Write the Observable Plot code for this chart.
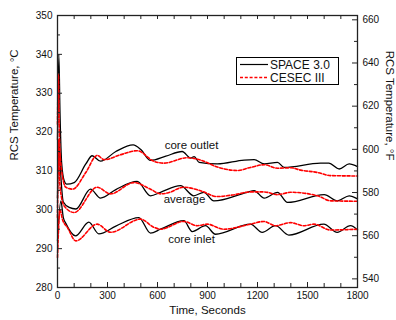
<!DOCTYPE html>
<html>
<head>
<meta charset="utf-8">
<script src="https://cdn.jsdelivr.net/npm/d3@7"></script>
<script src="https://cdn.jsdelivr.net/npm/@observablehq/plot@0.6"></script>
<style>
  body { margin: 0; background: #fff; }
  #wrap { position: relative; width: 396px; height: 320px; font-family: "Liberation Sans", Arial, sans-serif; }
  #legend { position: absolute; left: 236px; top: 57px; width: 101px; height: 26px; border: 1px solid #000; background: #fff; }
</style>
</head>
<body>
<div id="wrap"></div>
<script>
// ---- data (time s, temperature °C) ----
const spaceOutlet = [[0,318],[8,340],[15,325],[25,312],[40,307.5],[55,306.6],[100,307.0],[170,311.8],[208,313.9],[258,312.5],[350,315.0],[454,316.7],[500,315.5],[558,312.7],[650,313.8],[748,315.0],[800,313.3],[820,313.7],[850,312.2],[960,311.8],[1120,312.8],[1180,312.9],[1240,311.8],[1320,312.2],[1360,310.9],[1578,312.0],[1628,312.0],[1690,310.5],[1750,311.8],[1800,311.1]];
const cesecOutlet = [[0,322],[5,335],[12,318],[25,310],[50,305.8],[90,305.3],[170,309.6],[238,314.0],[280,312.9],[380,314.2],[478,315.2],[578,312.5],[638,312.0],[778,313.4],[858,312.8],[960,311.0],[1078,310.1],[1158,310.9],[1240,311.6],[1320,310.7],[1400,310.8],[1460,310.2],[1560,309.6],[1638,308.8],[1800,308.7]];
const spaceAverage = [[0,303],[8,318],[18,310],[35,302],[70,300.6],[110,300.2],[198,305.3],[258,303.0],[350,305.2],[478,307.3],[558,303.6],[618,304.5],[738,306.2],[818,303.6],[878,304.5],[938,302.3],[1138,304.5],[1180,304.9],[1240,303.0],[1320,304.5],[1380,301.9],[1600,303.9],[1680,302.3],[1750,303.6],[1800,302.8]];
const cesecAverage = [[0,298],[6,318],[15,306],[40,301],[100,299.3],[238,305.8],[318,304.1],[458,307.0],[558,305.3],[618,304.1],[658,304.3],[758,305.8],[858,304.9],[958,303.4],[1050,303.8],[1158,304.6],[1240,304.6],[1320,303.9],[1400,304.5],[1560,303.6],[1640,302.3],[1800,302.2]];
const spaceInlet = [[0,292],[20,302.3],[35,298],[50,296.5],[108,293.3],[188,296.8],[248,293.8],[350,295.8],[488,298.0],[558,294.0],[618,295.0],[758,297.2],[808,294.4],[888,295.9],[948,293.7],[1158,296.3],[1228,294.2],[1308,295.9],[1388,293.5],[1598,296.3],[1678,294.2],[1758,295.9],[1800,294.8]];
const cesecInlet = [[0,287.7],[15,300],[30,297.5],[60,295.4],[110,292.0],[238,296.3],[318,294.2],[498,297.6],[578,295.5],[618,295.0],[758,297.0],[838,295.9],[898,296.3],[998,295.0],[1158,296.3],[1238,297.0],[1308,295.9],[1398,296.7],[1478,295.9],[1538,296.3],[1638,294.8],[1800,295.0]];

const seriesNames = ["SPACE 3.0", "CESEC III"];
const xLabels = [0, 300, 600, 900, 1200, 1500, 1800];
const xTicks = d3.range(0, 1801, 100);
const yLabels = [280, 290, 300, 310, 320, 330, 340, 350];
const yMinor = [285, 295, 305, 315, 325, 335, 345];
const fLabels = [540, 560, 580, 600, 620, 640, 660];
const fMinor = [550, 570, 590, 610, 630, 650];
const annoText = ["core outlet", "average", "core inlet"];
const annoT = [804, 762, 804];
const annoC = [316.5, 302.8, 292.5];

const toRows = (arr, model) => arr.map(([t, v]) => ({t, v, model}));
const spaceRows = [spaceOutlet, spaceAverage, spaceInlet];
const cesecRows = [cesecOutlet, cesecAverage, cesecInlet];

const W = 396, H = 320, mL = 57, mR = 39, mT = 15, mB = 33;
const pw = W - mL - mR, ph = H - mT - mB;
const fToC = f => (f - 32) / 1.8;
const ink = "#222";
const redDash = "3,1.8";

const marks = [];
spaceRows.forEach(arr => marks.push(Plot.line(toRows(arr, seriesNames[0]), {x: "t", y: "v", stroke: "#000", strokeWidth: 1.3, curve: "monotone-x"})));
cesecRows.forEach(arr => marks.push(Plot.line(toRows(arr, seriesNames[1]), {x: "t", y: "v", stroke: "#ff0000", strokeWidth: 1.6, strokeDasharray: redDash, curve: "monotone-x"})));

marks.push(
  Plot.tickX(xTicks, {x: d => d, insetTop: ph - 4, stroke: ink}),
  Plot.tickX(xLabels, {x: d => d, insetTop: ph - 5, stroke: ink}),
  Plot.tickX(xTicks, {x: d => d, insetBottom: ph - 4, stroke: ink}),
  Plot.tickY(yLabels, {y: d => d, insetRight: pw - 5, stroke: ink}),
  Plot.tickY(yMinor, {y: d => d, insetRight: pw - 3, stroke: ink}),
  Plot.tickY(fLabels, {y: fToC, insetLeft: pw - 5, stroke: ink}),
  Plot.tickY(fMinor, {y: fToC, insetLeft: pw - 3, stroke: ink}),
  Plot.frame({stroke: ink, strokeWidth: 1.3}),
  Plot.axisX({ticks: xLabels, tickFormat: d => String(d), tickSize: 0, tickPadding: 4, label: null, fontSize: 10, fill: "#111"}),
  Plot.axisY({ticks: yLabels, tickFormat: d => String(d), tickSize: 0, tickPadding: 5, label: null, fontSize: 10, fill: "#111"}),
  Plot.axisY({anchor: "right", ticks: fLabels.map(fToC), tickFormat: c => String(Math.round(c * 1.8 + 32)), tickSize: 0, tickPadding: 5, label: null, fontSize: 10, fill: "#111"}),
  Plot.text(annoText, {x: (d, i) => annoT[i], y: (d, i) => annoC[i], text: d => d, fontSize: 11.5, fill: "#111"}),
  Plot.text(["Time, Seconds"], {frameAnchor: "bottom", dy: 26, text: d => d, fontSize: 11.5, fill: "#111"}),
  Plot.text(["RCS Temperature, °C"], {frameAnchor: "left", dx: -43, dy: 9, rotate: -90, text: d => d, fontSize: 11.5, fill: "#111"}),
  Plot.text(["RCS Temperature, °F"], {frameAnchor: "right", dx: 32, dy: 9, rotate: 90, text: d => d, fontSize: 11.5, fill: "#111"})
);

const chart = Plot.plot({
  width: W, height: H,
  marginLeft: mL, marginRight: mR, marginTop: mT, marginBottom: mB,
  x: {domain: [0, 1800]},
  y: {domain: [280, 350]},
  style: {fontFamily: "'Liberation Sans', Arial, sans-serif", background: "#fff", overflow: "visible"},
  marks
});
const wrap = document.getElementById("wrap");
wrap.appendChild(chart);

// legend
const leg = document.createElement("div");
leg.id = "legend";
const ns = "http://www.w3.org/2000/svg";
const ls = document.createElementNS(ns, "svg");
ls.setAttribute("width", 101); ls.setAttribute("height", 26);
const styles = [{stroke: "#000", dash: null, w: 1.2}, {stroke: "#ff0000", dash: redDash, w: 1.4}];
seriesNames.forEach((name, i) => {
  const yy = 6.5 + i * 13;
  const ln = document.createElementNS(ns, "line");
  ln.setAttribute("x1", 3); ln.setAttribute("x2", 31);
  ln.setAttribute("y1", yy); ln.setAttribute("y2", yy);
  ln.setAttribute("stroke", styles[i].stroke); ln.setAttribute("stroke-width", styles[i].w);
  if (styles[i].dash) ln.setAttribute("stroke-dasharray", styles[i].dash);
  ls.appendChild(ln);
  const tx = document.createElementNS(ns, "text");
  tx.setAttribute("x", 33); tx.setAttribute("y", yy + 4.2);
  tx.setAttribute("font-size", 12); tx.setAttribute("fill", "#111");
  tx.setAttribute("font-family", "'Liberation Sans', Arial, sans-serif");
  tx.textContent = name;
  ls.appendChild(tx);
});
leg.appendChild(ls);
wrap.appendChild(leg);
</script>
</body>
</html>
